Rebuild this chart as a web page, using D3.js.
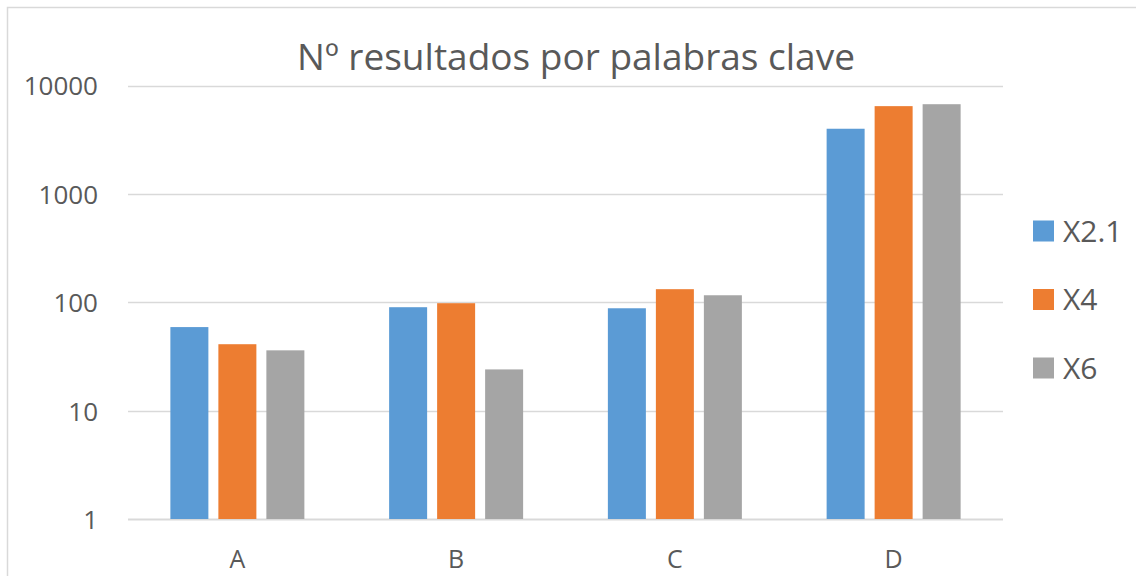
<!DOCTYPE html>
<html><head><meta charset="utf-8">
<script src="https://cdn.jsdelivr.net/npm/d3@7"></script>
<style>body{margin:0;background:#fff}svg{display:block}text{font-family:"Open Sans",sans-serif;fill:#595959}</style>
</head><body><svg id="c" width="1136" height="576"></svg>
<script>
const categories = ["A","B","C","D"];
const seriesNames = ["X2.1","X4","X6"];
const seriesColors = ["#5b9bd5","#ed7d31","#a5a5a5"];
const valuesX21 = [59, 90, 88, 3990];
const valuesX4 = [41, 98, 132, 6450];
const valuesX6 = [36, 24, 116, 6720];
const tickValues = [1, 10, 100, 1000, 10000];
const titleText = "Nº resultados por palabras clave";

const series = [valuesX21, valuesX4, valuesX6];
const svg = d3.select("#c");
const plotLeft = 128, plotRight = 1003, plotTop = 85.5, plotBottom = 519;

svg.append("path").attr("d","M7.5,576V7.5H1136").attr("fill","none").attr("stroke","#d9d9d9").attr("stroke-width",1.5);

const x = d3.scaleBand().domain(categories).range([plotLeft,plotRight]);
const y = d3.scaleLog().domain([1,10000]).range([plotBottom,plotTop]);

const g = svg.append("g");
g.selectAll("line.grid").data(tickValues).join("line")
  .attr("x1",plotLeft).attr("x2",plotRight)
  .attr("y1",d=>Math.round(y(d))+0.5).attr("y2",d=>Math.round(y(d))+0.5)
  .attr("stroke","#d9d9d9").attr("stroke-width",d=>d===1?2:1.3);

const yAxis = d3.axisLeft(y).tickValues(tickValues).tickFormat(d3.format("d")).tickSize(0).tickPadding(0);
const ya = svg.append("g").attr("transform","translate(98,0)").call(yAxis);
ya.select(".domain").remove();
ya.selectAll("text").style("font-size","26px").attr("dy","0.36em").attr("fill","#595959");

const bw = 38, gap = 10;
const groupW = bw*3 + gap*2;
series.forEach((vals,i)=>{
  g.selectAll("rect.s"+i).data(vals).join("rect").attr("class","s"+i)
    .attr("x",(d,j)=>x(categories[j]) + (x.bandwidth()-groupW)/2 + i*(bw+gap))
    .attr("width",bw)
    .attr("y",d=>y(d)).attr("height",d=>y(1)-y(d))
    .attr("fill",seriesColors[i]);
});

const xAxis = d3.axisBottom(x).tickSize(0).tickPadding(0);
const xa = svg.append("g").attr("transform","translate(0,"+plotBottom+")").call(xAxis);
xa.select(".domain").remove();
xa.selectAll("text").style("font-size","25px").attr("y",49).attr("dy",0).attr("fill","#595959");

svg.append("text").attr("x",576).attr("y",70).attr("text-anchor","middle")
  .style("font-size","37px").text(titleText);

const lg = svg.append("g");
seriesNames.forEach((n,i)=>{
  const yy = 231 + i*68.5;
  lg.append("rect").attr("x",1033).attr("y",yy-10.5).attr("width",21).attr("height",21).attr("fill",seriesColors[i]);
  lg.append("text").attr("x",1063).attr("y",yy).attr("dy","0.36em").style("font-size","30px").text(n);
});
</script></body></html>
